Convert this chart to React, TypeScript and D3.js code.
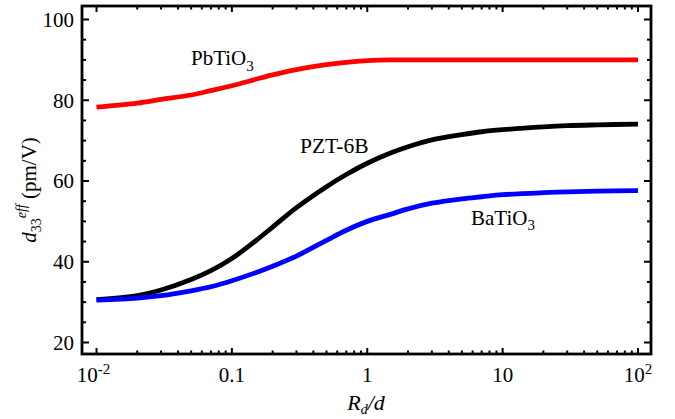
import React from "react";
import * as d3 from "d3";

const rd = [0.01, 0.02, 0.03, 0.05, 0.07, 0.1, 0.15, 0.2, 0.3, 0.5, 0.7, 1, 1.5, 2, 3, 5, 7, 10, 20, 30, 50, 100];
const pbtio3 = [78.3, 79.3, 80.2, 81.3, 82.4, 83.6, 85.2, 86.3, 87.6, 88.8, 89.4, 89.8, 90.0, 90.0, 90.0, 90.0, 90.0, 90.0, 90.0, 90.0, 90.0, 90.0];
const pzt6b = [30.6, 31.6, 33.0, 35.6, 37.8, 40.8, 45.2, 48.6, 53.4, 58.6, 61.6, 64.4, 67.0, 68.5, 70.2, 71.5, 72.2, 72.7, 73.4, 73.7, 73.9, 74.1];
const batio3 = [30.5, 31.0, 31.6, 32.8, 33.8, 35.3, 37.3, 38.9, 41.4, 45.3, 47.8, 50.0, 51.8, 53.1, 54.5, 55.6, 56.1, 56.6, 57.1, 57.3, 57.5, 57.6];

const yTicks = [20, 40, 60, 80, 100];
const yMinor = [25, 30, 35, 45, 50, 55, 65, 70, 75, 85, 90, 95];
const decades = [0.01, 0.1, 1, 10, 100];

const FONT = "'Liberation Serif', 'Times New Roman', serif";

export default function App() {
  const W = 675, H = 419;
  const L = 82, R = 651, T = 6, B = 354;
  const x = d3.scaleLog().domain([0.01, 100]).range([96.5, 638]);
  const y = d3.scaleLinear().domain([20, 100]).range([342.5, 19.5]);

  const line = d3
    .line<number>()
    .x((_, i) => x(rd[i]))
    .y((d) => y(d))
    .curve(d3.curveCatmullRom.alpha(0.5));

  const xMinor: number[] = [];
  decades.slice(0, 4).forEach((d) => {
    for (let k = 2; k <= 9; k++) xMinor.push(d * k);
  });

  const tickStroke = { stroke: "#000", strokeWidth: 2 };

  return (
    <svg width={W} height={H} style={{ position: "absolute", left: 0, top: 0, background: "#fff" }} fontFamily={FONT}>
      <rect x={0} y={0} width={W} height={H} fill="#fff" />
      {decades.map((d) => (
        <g key={"xM" + d}>
          <line x1={x(d)} x2={x(d)} y1={B} y2={B - 6} {...tickStroke} />
          <line x1={x(d)} x2={x(d)} y1={T} y2={T + 6} {...tickStroke} />
        </g>
      ))}
      {xMinor.map((d) => (
        <g key={"xm" + d}>
          <line x1={x(d)} x2={x(d)} y1={B} y2={B - 3.5} {...tickStroke} />
          <line x1={x(d)} x2={x(d)} y1={T} y2={T + 3.5} {...tickStroke} />
        </g>
      ))}
      {yTicks.map((v) => (
        <g key={"yM" + v}>
          <line x1={L} x2={L + 7} y1={y(v)} y2={y(v)} {...tickStroke} />
          <line x1={R} x2={R - 7} y1={y(v)} y2={y(v)} {...tickStroke} />
          <text x={74} y={y(v)} dy="0.35em" textAnchor="end" fontSize={21} fill="#000">
            {v}
          </text>
        </g>
      ))}
      {yMinor.map((v) => (
        <g key={"ym" + v}>
          <line x1={L} x2={L + 4} y1={y(v)} y2={y(v)} {...tickStroke} />
          <line x1={R} x2={R - 4} y1={y(v)} y2={y(v)} {...tickStroke} />
        </g>
      ))}
      <rect x={L} y={T} width={R - L} height={B - T} fill="none" stroke="#000" strokeWidth={2.8} />

      <path d={line(pbtio3) || ""} fill="none" stroke="#ff0000" strokeWidth={4.8} />
      <path d={line(pzt6b) || ""} fill="none" stroke="#000000" strokeWidth={4.8} />
      <path d={line(batio3) || ""} fill="none" stroke="#0000ff" strokeWidth={4.8} />

      <text x={x(0.01) - 3} y={382} textAnchor="middle" fontSize={21} fill="#000">
        10<tspan dy={-8} fontSize={15}>-2</tspan>
      </text>
      <text x={x(0.1)} y={382} textAnchor="middle" fontSize={21} fill="#000">0.1</text>
      <text x={x(1)} y={382} textAnchor="middle" fontSize={21} fill="#000">1</text>
      <text x={x(10)} y={382} textAnchor="middle" fontSize={21} fill="#000">10</text>
      <text x={x(100)} y={382} textAnchor="middle" fontSize={21} fill="#000">
        10<tspan dy={-8} fontSize={15}>2</tspan>
      </text>

      <text x={366} y={410} textAnchor="middle" fontSize={22} fontStyle="italic" fill="#000">
        R<tspan dy={4} fontSize={14}>d</tspan>
        <tspan dy={-4}>/d</tspan>
      </text>
      <text transform="translate(36,190) rotate(-90)" textAnchor="middle" fontSize={21} fill="#000">
        <tspan fontStyle="italic">d</tspan>
        <tspan dy={5} fontSize={14}>33</tspan>
        <tspan dy={-15} fontSize={14} fontStyle="italic">eff</tspan>
        <tspan dy={10}> (pm/V)</tspan>
      </text>

      <text x={191} y={65} fontSize={21} fill="#000">
        PbTiO<tspan dy={6} fontSize={15}>3</tspan>
      </text>
      <text x={300} y={153} fontSize={21.5} fill="#000">PZT-6B</text>
      <text x={471} y={225} fontSize={21} fill="#000">
        BaTiO<tspan dy={5} fontSize={15}>3</tspan>
      </text>
    </svg>
  );
}
